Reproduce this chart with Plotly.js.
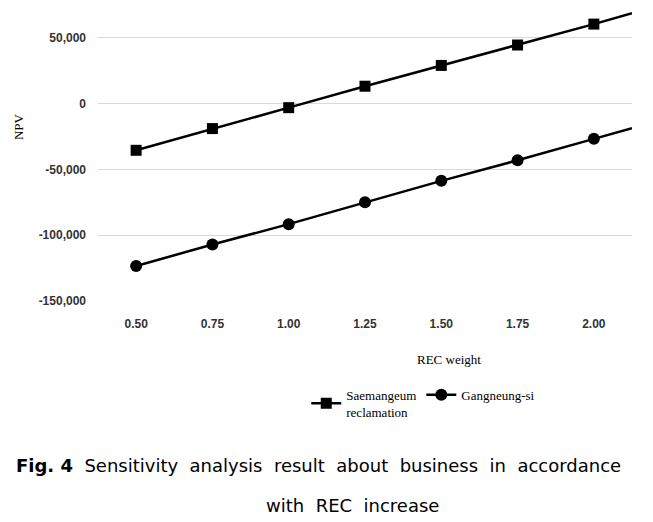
<!DOCTYPE html>
<html>
<head>
<meta charset="utf-8">
<script src="https://cdn.plot.ly/plotly-3.0.1.min.js"></script>
<style>
  html, body { margin: 0; padding: 0; background: #fff; }
  #chart { width: 653px; height: 522px; }
</style>
</head>
<body>
<div id="chart"></div>
<script>
// ---- data ----
const recWeight = [0.5, 0.75, 1.0, 1.25, 1.5, 1.75, 2.0];
const recLabels = ['0.50', '0.75', '1.00', '1.25', '1.50', '1.75', '2.00'];
const saemangeum = [-35500, -19000, -3100, 13200, 29000, 44500, 60400];
const gangneung = [-123400, -107100, -91600, -75000, -58700, -43100, -26800];
const seriesNames = ['Saemangeum<br>reclamation', 'Gangneung-si'];
const yTickVals = [-150000, -100000, -50000, 0, 50000];
const yTickText = ['-150,000', '-100,000', '-50,000', '0', '50,000'];
const captionLine1 = ['<b>Fig. 4</b>', 'Sensitivity', 'analysis', 'result', 'about', 'business', 'in', 'accordance'];
const captionLine2 = ['with', 'REC', 'increase'];

const xRange = [0.375, 2.125];
const yRange = [-150000, 78700];

// linear least-squares trend, used to extend the line to the plot edge (forward forecast)
function fit(xs, ys) {
  const n = xs.length;
  const mx = xs.reduce((a, b) => a + b, 0) / n;
  const my = ys.reduce((a, b) => a + b, 0) / n;
  let sxy = 0, sxx = 0;
  for (let i = 0; i < n; i++) { sxy += (xs[i] - mx) * (ys[i] - my); sxx += (xs[i] - mx) ** 2; }
  const b = sxy / sxx;
  return x => my + b * (x - mx);
}

function extension(ys) {
  const f = fit(recWeight, ys);
  const x0 = recWeight[recWeight.length - 1];
  return {
    x: [x0, xRange[1]],
    y: [ys[ys.length - 1], f(xRange[1])],
    mode: 'lines',
    line: { color: '#000', width: 2.5 },
    showlegend: false,
    hoverinfo: 'skip'
  };
}

const traces = [
  {
    x: recWeight, y: saemangeum, name: seriesNames[0],
    mode: 'lines+markers',
    line: { color: '#000', width: 2.5 },
    marker: { symbol: 'square', size: 11, color: '#000' }
  },
  {
    x: recWeight, y: gangneung, name: seriesNames[1],
    mode: 'lines+markers',
    line: { color: '#000', width: 2.5 },
    marker: { symbol: 'circle', size: 12, color: '#000' }
  },
  extension(saemangeum),
  extension(gangneung)
];

const tickFont = { family: 'Liberation Sans, Arial, sans-serif', size: 12, color: '#333', weight: 'bold' };
const serif = 'Liberation Serif, Times New Roman, serif';
const capFont = 'DejaVu Sans, Liberation Sans, sans-serif';
const wideGap = ' \u00a0';

const layout = {
  width: 653, height: 522,
  margin: { l: 98, r: 21, t: 0, b: 221 },
  paper_bgcolor: '#fff', plot_bgcolor: '#fff',
  showlegend: true,
  legend: {
    orientation: 'h', x: 0.39, y: -0.34, xanchor: 'left', yanchor: 'middle',
    font: { family: serif, size: 13, color: '#000' },
    bgcolor: 'rgba(0,0,0,0)', itemwidth: 30, tracegroupgap: 0
  },
  xaxis: {
    range: xRange, tickvals: recWeight, ticktext: recLabels,
    showgrid: false, zeroline: false, showline: false, ticks: '',
    tickfont: tickFont, ticklabelstandoff: 14, fixedrange: true
  },
  yaxis: {
    range: yRange, tickvals: yTickVals, ticktext: yTickText,
    showgrid: true, gridcolor: '#d9d9d9', gridwidth: 1,
    zeroline: false, showline: false, ticks: '',
    tickfont: tickFont, ticklabelstandoff: 11, fixedrange: true
  },
  annotations: [
    { text: 'NPV', xref: 'paper', yref: 'paper', x: -0.1498, y: 0.578, textangle: -90,
      showarrow: false, xanchor: 'center', yanchor: 'middle',
      font: { family: serif, size: 13, color: '#000' } },
    { text: 'REC weight', xref: 'paper', yref: 'paper', x: 0.657, y: -0.196,
      showarrow: false, xanchor: 'center', yanchor: 'middle',
      font: { family: serif, size: 13, color: '#000' } },
    { text: captionLine1.join(wideGap),
      xref: 'paper', yref: 'paper', x: 0.412, y: -0.545,
      showarrow: false, xanchor: 'center', yanchor: 'middle',
      font: { family: capFont, size: 18, color: '#000' } },
    { text: captionLine2.join(wideGap),
      xref: 'paper', yref: 'paper', x: 0.476, y: -0.678,
      showarrow: false, xanchor: 'center', yanchor: 'middle',
      font: { family: capFont, size: 18, color: '#000' } }
  ]
};

Plotly.newPlot('chart', traces, layout, { displayModeBar: false, staticPlot: true });
</script>
</body>
</html>
